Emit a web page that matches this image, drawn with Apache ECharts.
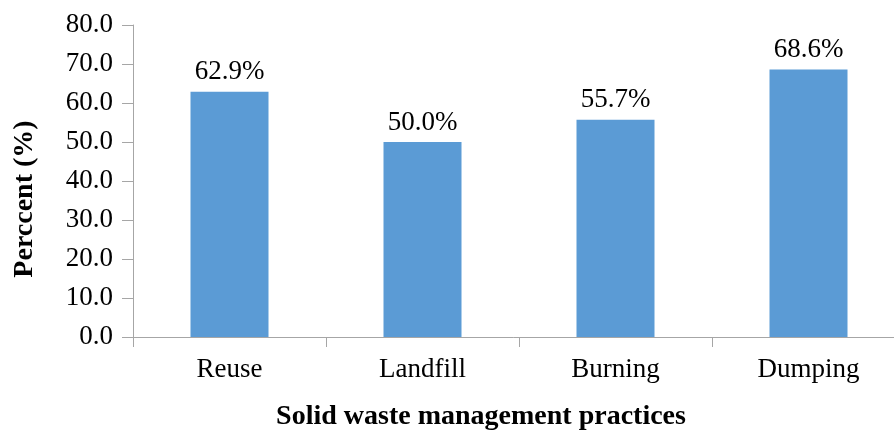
<!DOCTYPE html>
<html><head><meta charset="utf-8">
<script src="https://cdn.jsdelivr.net/npm/echarts@6/dist/echarts.min.js"></script>
<style>html,body{margin:0;padding:0;background:#fff}#c{width:894px;height:430px}</style>
</head><body><div id="c"></div>
<script>
const categories = ["Reuse", "Landfill", "Burning", "Dumping"];
const values = [62.9, 50.0, 55.7, 68.6];
const yTicks = [0, 10, 20, 30, 40, 50, 60, 70, 80];
const xTitle = "Solid waste management practices";
const yTitle = "Perccent (%)";

const FONT = "Liberation Serif";
const chart = echarts.init(document.getElementById('c'), null, {renderer: 'canvas'});
chart.setOption({
  animation: false,
  grid: {left: 133, width: 772, top: 25, height: 312, containLabel: false, outerBoundsMode: 'none'},
  xAxis: {
    type: 'category', data: categories,
    axisLine: {lineStyle: {color: '#a6a6a6', width: 1}},
    axisTick: {show: true, length: 10, alignWithLabel: false, lineStyle: {color: '#a6a6a6'}},
    axisLabel: {color: '#000', fontFamily: FONT, fontSize: 27, margin: 19}
  },
  yAxis: {
    type: 'value', min: yTicks[0], max: yTicks[yTicks.length - 1], interval: 10,
    axisLine: {show: true, lineStyle: {color: '#a6a6a6', width: 1}},
    axisTick: {show: true, length: 11, lineStyle: {color: '#a6a6a6'}},
    splitLine: {show: false},
    axisLabel: {color: '#000', fontFamily: FONT, fontSize: 27, margin: 20,
      formatter: v => v.toFixed(1)}
  },
  series: [{
    type: 'bar', data: values, barWidth: 78,
    itemStyle: {color: '#5b9bd5'},
    label: {show: true, position: 'top', distance: 6, color: '#000',
      fontFamily: FONT, fontSize: 27, formatter: p => p.value.toFixed(1) + '%'}
  }],
  graphic: [
    {type: 'text', x: 481, y: 417, style: {text: xTitle, fill: '#000',
      font: 'bold 28px "Liberation Serif"', textAlign: 'center', textVerticalAlign: 'middle'}},
    {type: 'text', x: 25, y: 199, rotation: Math.PI / 2, style: {text: yTitle, fill: '#000',
      font: 'bold 28px "Liberation Serif"', textAlign: 'center', textVerticalAlign: 'middle'}}
  ]
});
</script></body></html>
